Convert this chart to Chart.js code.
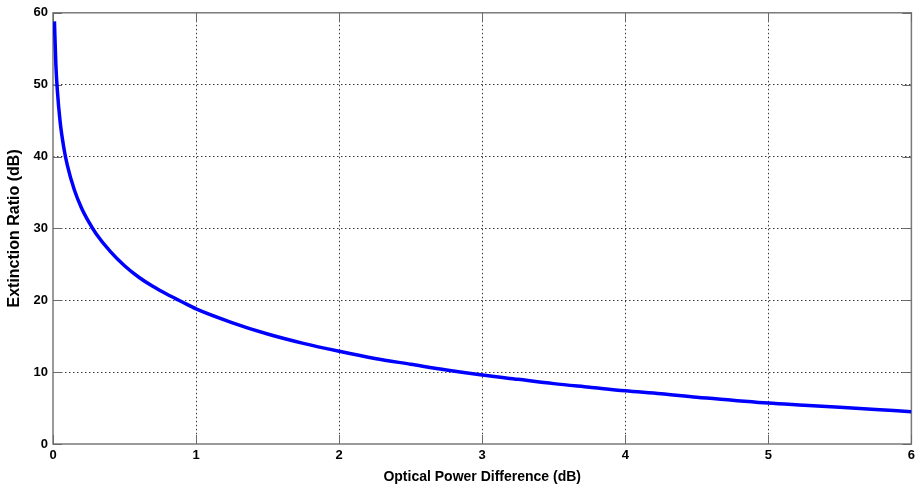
<!DOCTYPE html>
<html lang="en">
<head>
    <meta charset="UTF-8">
    <title>Extinction Ratio vs Optical Power Difference</title>
    <script src="https://cdn.jsdelivr.net/npm/chart.js"></script>
    <style>
        html, body {
            margin: 0;
            padding: 0;
            background: #ffffff;
        }
        #wrap {
            width: 919px;
            height: 490px;
        }
    </style>
</head>
<body>
    <div id="wrap"><canvas id="erChart" width="919" height="490"></canvas></div>

    <script>
        // values
        const powerDiff = [0.01, 0.02, 0.03, 0.05, 0.075, 0.1, 0.15, 0.2, 0.25, 0.3, 0.4, 0.5, 0.6, 0.7, 0.8, 0.9,
                           1.0, 1.25, 1.5, 1.75, 2.0, 2.25, 2.5, 2.75, 3.0, 3.25, 3.5, 3.75, 4.0, 4.25, 4.5, 4.75,
                           5.0, 5.25, 5.5, 5.75, 6.0];
        const extinction = [58.8, 52.8, 49.3, 44.8, 41.3, 38.8, 35.3, 32.8, 30.9, 29.3, 26.8, 24.8, 23.2, 21.9, 20.8, 19.8,
                            18.8, 16.9, 15.3, 14.0, 12.9, 11.9, 11.1, 10.3, 9.6, 9.0, 8.4, 7.9, 7.4, 7.0, 6.5, 6.1,
                            5.7, 5.4, 5.1, 4.8, 4.5];
        const xTicks = [0, 1, 2, 3, 4, 5, 6];
        const yTicks = [0, 10, 20, 30, 40, 50, 60];

        const points = powerDiff.map((x, i) => ({ x: x, y: extinction[i] }));

        // gray box around the plot plus small inward ticks (matlab look)
        const boxPlugin = {
            id: 'boxPlugin',
            beforeDatasetsDraw(chart) {
                const { ctx, chartArea: a, scales } = chart;
                ctx.save();
                ctx.strokeStyle = '#7a7a7a';
                ctx.lineWidth = 1.5;
                ctx.strokeRect(a.left, a.top, a.right - a.left, a.bottom - a.top);
                ctx.strokeStyle = '#6a6a6a';
                ctx.lineWidth = 1;
                ctx.beginPath();
                xTicks.forEach(v => {
                    const px = Math.round(scales.x.getPixelForValue(v)) + 0.5;
                    ctx.moveTo(px, a.bottom); ctx.lineTo(px, a.bottom - 9);
                    ctx.moveTo(px, a.top); ctx.lineTo(px, a.top + 9);
                });
                yTicks.forEach(v => {
                    const py = Math.round(scales.y.getPixelForValue(v)) + 0.5;
                    ctx.moveTo(a.left, py); ctx.lineTo(a.left + 9, py);
                    ctx.moveTo(a.right, py); ctx.lineTo(a.right - 9, py);
                });
                ctx.stroke();
                ctx.restore();
            }
        };

        const edgeColor = (ctx, max) =>
            (ctx.tick && (ctx.tick.value === 0 || ctx.tick.value === max)) ? 'rgba(0,0,0,0)' : '#3a3a3a';

        const tickFont = { family: 'Liberation Sans, Arial, sans-serif', size: 13, weight: 'bold' };
        const xTitleFont = { family: 'Liberation Sans, Arial, sans-serif', size: 14, weight: 'bold' };
        const yTitleFont = { family: 'Liberation Sans, Arial, sans-serif', size: 16, weight: 'bold' };

        new Chart(document.getElementById('erChart'), {
            type: 'scatter',
            data: {
                datasets: [{
                    data: points,
                    showLine: true,
                    borderColor: '#0000ff',
                    borderWidth: 3.5,
                    pointRadius: 0,
                    cubicInterpolationMode: 'monotone',
                    fill: false
                }]
            },
            options: {
                responsive: false,
                animation: false,
                layout: { padding: { left: 5, top: 12, right: 6, bottom: 0 } },
                plugins: {
                    legend: { display: false },
                    tooltip: { enabled: false }
                },
                scales: {
                    x: {
                        type: 'linear',
                        min: 0,
                        max: 6,
                        afterBuildTicks: s => { s.ticks = xTicks.map(v => ({ value: v })); },
                        afterFit: s => { s.height = 46; },
                        grid: { color: c => edgeColor(c, 6), lineWidth: 1, drawTicks: false },
                        border: { display: false, dash: [1.5, 2.5] },
                        ticks: { color: '#000', font: tickFont, padding: 4, maxRotation: 0 },
                        title: { display: true, text: 'Optical Power Difference (dB)', color: '#000', font: xTitleFont, padding: { top: 5, bottom: 4 } }
                    },
                    y: {
                        type: 'linear',
                        min: 0,
                        max: 60,
                        afterBuildTicks: s => { s.ticks = yTicks.map(v => ({ value: v })); },
                        afterFit: s => { s.width = 48; },
                        grid: { color: c => edgeColor(c, 60), lineWidth: 1, drawTicks: false },
                        border: { display: false, dash: [1.5, 2.5] },
                        ticks: { color: '#000', font: tickFont, padding: 5 },
                        title: { display: true, text: 'Extinction Ratio (dB)', color: '#000', font: yTitleFont, padding: { top: 0, bottom: 4 } }
                    }
                }
            },
            plugins: [boxPlugin]
        });
    </script>
</body>
</html>
